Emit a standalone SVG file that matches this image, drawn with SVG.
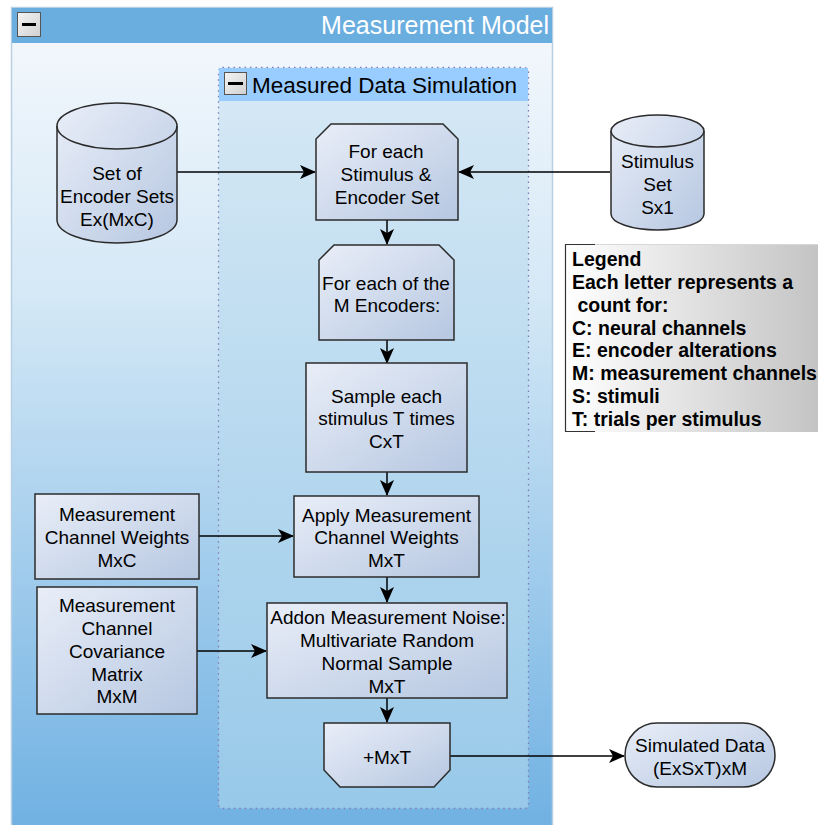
<svg xmlns="http://www.w3.org/2000/svg" width="818" height="825" viewBox="0 0 818 825">
<defs>
<linearGradient id="outerG" x1="0" y1="0" x2="0" y2="1">
<stop offset="0" stop-color="#f6f9fd"/>
<stop offset="0.35" stop-color="#d4e8f6"/>
<stop offset="1" stop-color="#6eb0e2"/>
</linearGradient>
<linearGradient id="innerG" x1="0" y1="0" x2="0" y2="1">
<stop offset="0" stop-color="#d7e9f5"/>
<stop offset="1" stop-color="#98c9e9"/>
</linearGradient>
<linearGradient id="nodeG" x1="0" y1="0" x2="1" y2="1">
<stop offset="0" stop-color="#e9eef8"/>
<stop offset="1" stop-color="#b6c7e1"/>
</linearGradient>
<linearGradient id="legG" x1="0" y1="0" x2="1" y2="0">
<stop offset="0" stop-color="#ffffff"/>
<stop offset="1" stop-color="#c4c4c4"/>
</linearGradient>
<linearGradient id="btnG" x1="0" y1="0" x2="1" y2="1">
<stop offset="0" stop-color="#f4f4f4"/>
<stop offset="1" stop-color="#d0d0d0"/>
</linearGradient>
<marker id="arr" viewBox="0 0 16 14" refX="15" refY="7" markerWidth="16" markerHeight="14" markerUnits="userSpaceOnUse" orient="auto">
<path d="M0,0 L16,7 L0,14 L4,7 Z" fill="#000"/>
</marker>
</defs>
<style>
.n{fill:url(#nodeG);stroke:#2b2b2b;stroke-width:1.5}
.t{font-family:"Liberation Sans",Arial,sans-serif;font-size:19px;fill:#000;text-anchor:middle}
.lg{font-family:"Liberation Sans",Arial,sans-serif;font-size:19.5px;font-weight:bold;fill:#000}
.c{fill:none;stroke:#000;stroke-width:1.5;marker-end:url(#arr)}
.btn{fill:url(#btnG);stroke:#555;stroke-width:1}
</style>
<rect x="0" y="0" width="818" height="825" fill="#ffffff"/>

<g id="measurement-model">
<rect x="11.5" y="7.5" width="541" height="830" fill="url(#outerG)" stroke="#b9cfe2" stroke-width="1.5"/>
<rect x="12" y="8" width="540" height="35" fill="#6aaee0"/>
<rect x="17.5" y="12.5" width="23" height="24" class="btn"/>
<rect x="22" y="23" width="14" height="3" fill="#000"/>
<text x="549" y="34" font-family="Liberation Sans,Arial,sans-serif" font-size="25" fill="#ffffff" text-anchor="end">Measurement Model</text>
</g>

<g id="measured-data-simulation">
<rect x="218.5" y="67.5" width="310" height="741" rx="4" fill="url(#innerG)" stroke="#7e7eb4" stroke-width="1.3" stroke-dasharray="1.5,4"/>
<rect x="219" y="68" width="309" height="33" fill="#99ccff"/>
<rect x="224.5" y="72.5" width="22" height="22" class="btn"/>
<rect x="228" y="82" width="15" height="3" fill="#000"/>
<text x="252" y="93" font-family="Liberation Sans,Arial,sans-serif" font-size="22.5" fill="#000">Measured Data Simulation</text>
</g>

<g id="connectors">
<path class="c" d="M177,172 L315,172"/>
<path class="c" d="M610,172 L459,172"/>
<path class="c" d="M387,220 L387,244"/>
<path class="c" d="M387,340 L387,363"/>
<path class="c" d="M387,472 L387,495"/>
<path class="c" d="M199,536 L293,536"/>
<path class="c" d="M387,577 L387,602"/>
<path class="c" d="M197,651 L266,651"/>
<path class="c" d="M387,698 L387,722"/>
<path class="c" d="M450,756 L624,756"/>
</g>

<g id="encoder-sets">
<path class="n" d="M57,126 L57,220 A60,23 0 0 0 177,220 L177,126 A60,23 0 0 0 57,126 Z"/>
<path d="M57,126 A60,23 0 0 0 177,126" fill="none" stroke="#2b2b2b" stroke-width="1.5"/>
<text class="t" x="117" y="180">Set of</text>
<text class="t" x="117" y="203">Encoder Sets</text>
<text class="t" x="117" y="226">Ex(MxC)</text>
</g>

<g id="stimulus-set">
<path class="n" d="M611,131 L611,214 A46.5,16 0 0 0 704,214 L704,131 A46.5,16 0 0 0 611,131 Z"/>
<path d="M611,131 A46.5,16 0 0 0 704,131" fill="none" stroke="#2b2b2b" stroke-width="1.5"/>
<text class="t" x="657.5" y="168">Stimulus</text>
<text class="t" x="657.5" y="191">Set</text>
<text class="t" x="657.5" y="214">Sx1</text>
</g>

<g id="for-each-stimulus">
<path class="n" d="M331,124 L443,124 L458,139 L458,220 L316,220 L316,139 Z"/>
<text class="t" x="386" y="158">For each</text>
<text class="t" x="386" y="181">Stimulus &amp;</text>
<text class="t" x="387" y="204">Encoder Set</text>
</g>

<g id="for-each-encoder">
<path class="n" d="M334,245 L439,245 L454,260 L454,340 L319,340 L319,260 Z"/>
<text class="t" x="386" y="290">For each of the</text>
<text class="t" x="387" y="312">M Encoders:</text>
</g>

<g id="sample-stimulus">
<rect class="n" x="306" y="363" width="161" height="109"/>
<text class="t" x="386.5" y="403">Sample each</text>
<text class="t" x="386.5" y="425">stimulus T times</text>
<text class="t" x="386.5" y="448">CxT</text>
</g>

<g id="apply-weights">
<rect class="n" x="294" y="496" width="185" height="81"/>
<text class="t" x="386.5" y="522">Apply Measurement</text>
<text class="t" x="386.5" y="544">Channel Weights</text>
<text class="t" x="386.5" y="567">MxT</text>
</g>

<g id="addon-noise">
<rect class="n" x="267" y="603" width="240" height="95"/>
<text class="t" x="388" y="624">Addon Measurement Noise:</text>
<text class="t" x="387" y="647">Multivariate Random</text>
<text class="t" x="387" y="670">Normal Sample</text>
<text class="t" x="387" y="693">MxT</text>
</g>

<g id="plus-mxt">
<path class="n" d="M324,723 L450,723 L450,770 L434,787 L340,787 L324,770 Z"/>
<text class="t" x="387" y="764">+MxT</text>
</g>

<g id="simulated-data">
<rect class="n" x="625" y="723" width="150" height="64" rx="32" ry="32"/>
<text class="t" x="700" y="752">Simulated Data</text>
<text class="t" x="700" y="775">(ExSxT)xM</text>
</g>

<g id="channel-weights">
<rect class="n" x="35" y="494" width="164" height="85"/>
<text class="t" x="117" y="521">Measurement</text>
<text class="t" x="117" y="544">Channel Weights</text>
<text class="t" x="117" y="567">MxC</text>
</g>

<g id="covariance">
<rect class="n" x="37" y="587" width="160" height="127"/>
<text class="t" x="117" y="612">Measurement</text>
<text class="t" x="117" y="635">Channel</text>
<text class="t" x="117" y="658">Covariance</text>
<text class="t" x="117" y="681">Matrix</text>
<text class="t" x="117" y="703">MxM</text>
</g>

<g id="legend">
<rect x="565" y="244" width="253" height="188" fill="url(#legG)"/>
<path d="M565,244.5 L818,244.5" stroke="#d8d8d8" stroke-width="1"/>
<path d="M595,244.5 L565.5,244.5 L565.5,431.5 L595,431.5" fill="none" stroke="#333" stroke-width="1.2"/>
<text class="lg" x="572" y="266">Legend</text>
<text class="lg" x="572" y="289">Each letter represents a</text>
<text class="lg" x="572" y="312" xml:space="preserve"> count for:</text>
<text class="lg" x="572" y="335">C: neural channels</text>
<text class="lg" x="572" y="357">E: encoder alterations</text>
<text class="lg" x="572" y="380">M: measurement channels</text>
<text class="lg" x="572" y="403">S: stimuli</text>
<text class="lg" x="572" y="426">T: trials per stimulus</text>
</g>
</svg>
